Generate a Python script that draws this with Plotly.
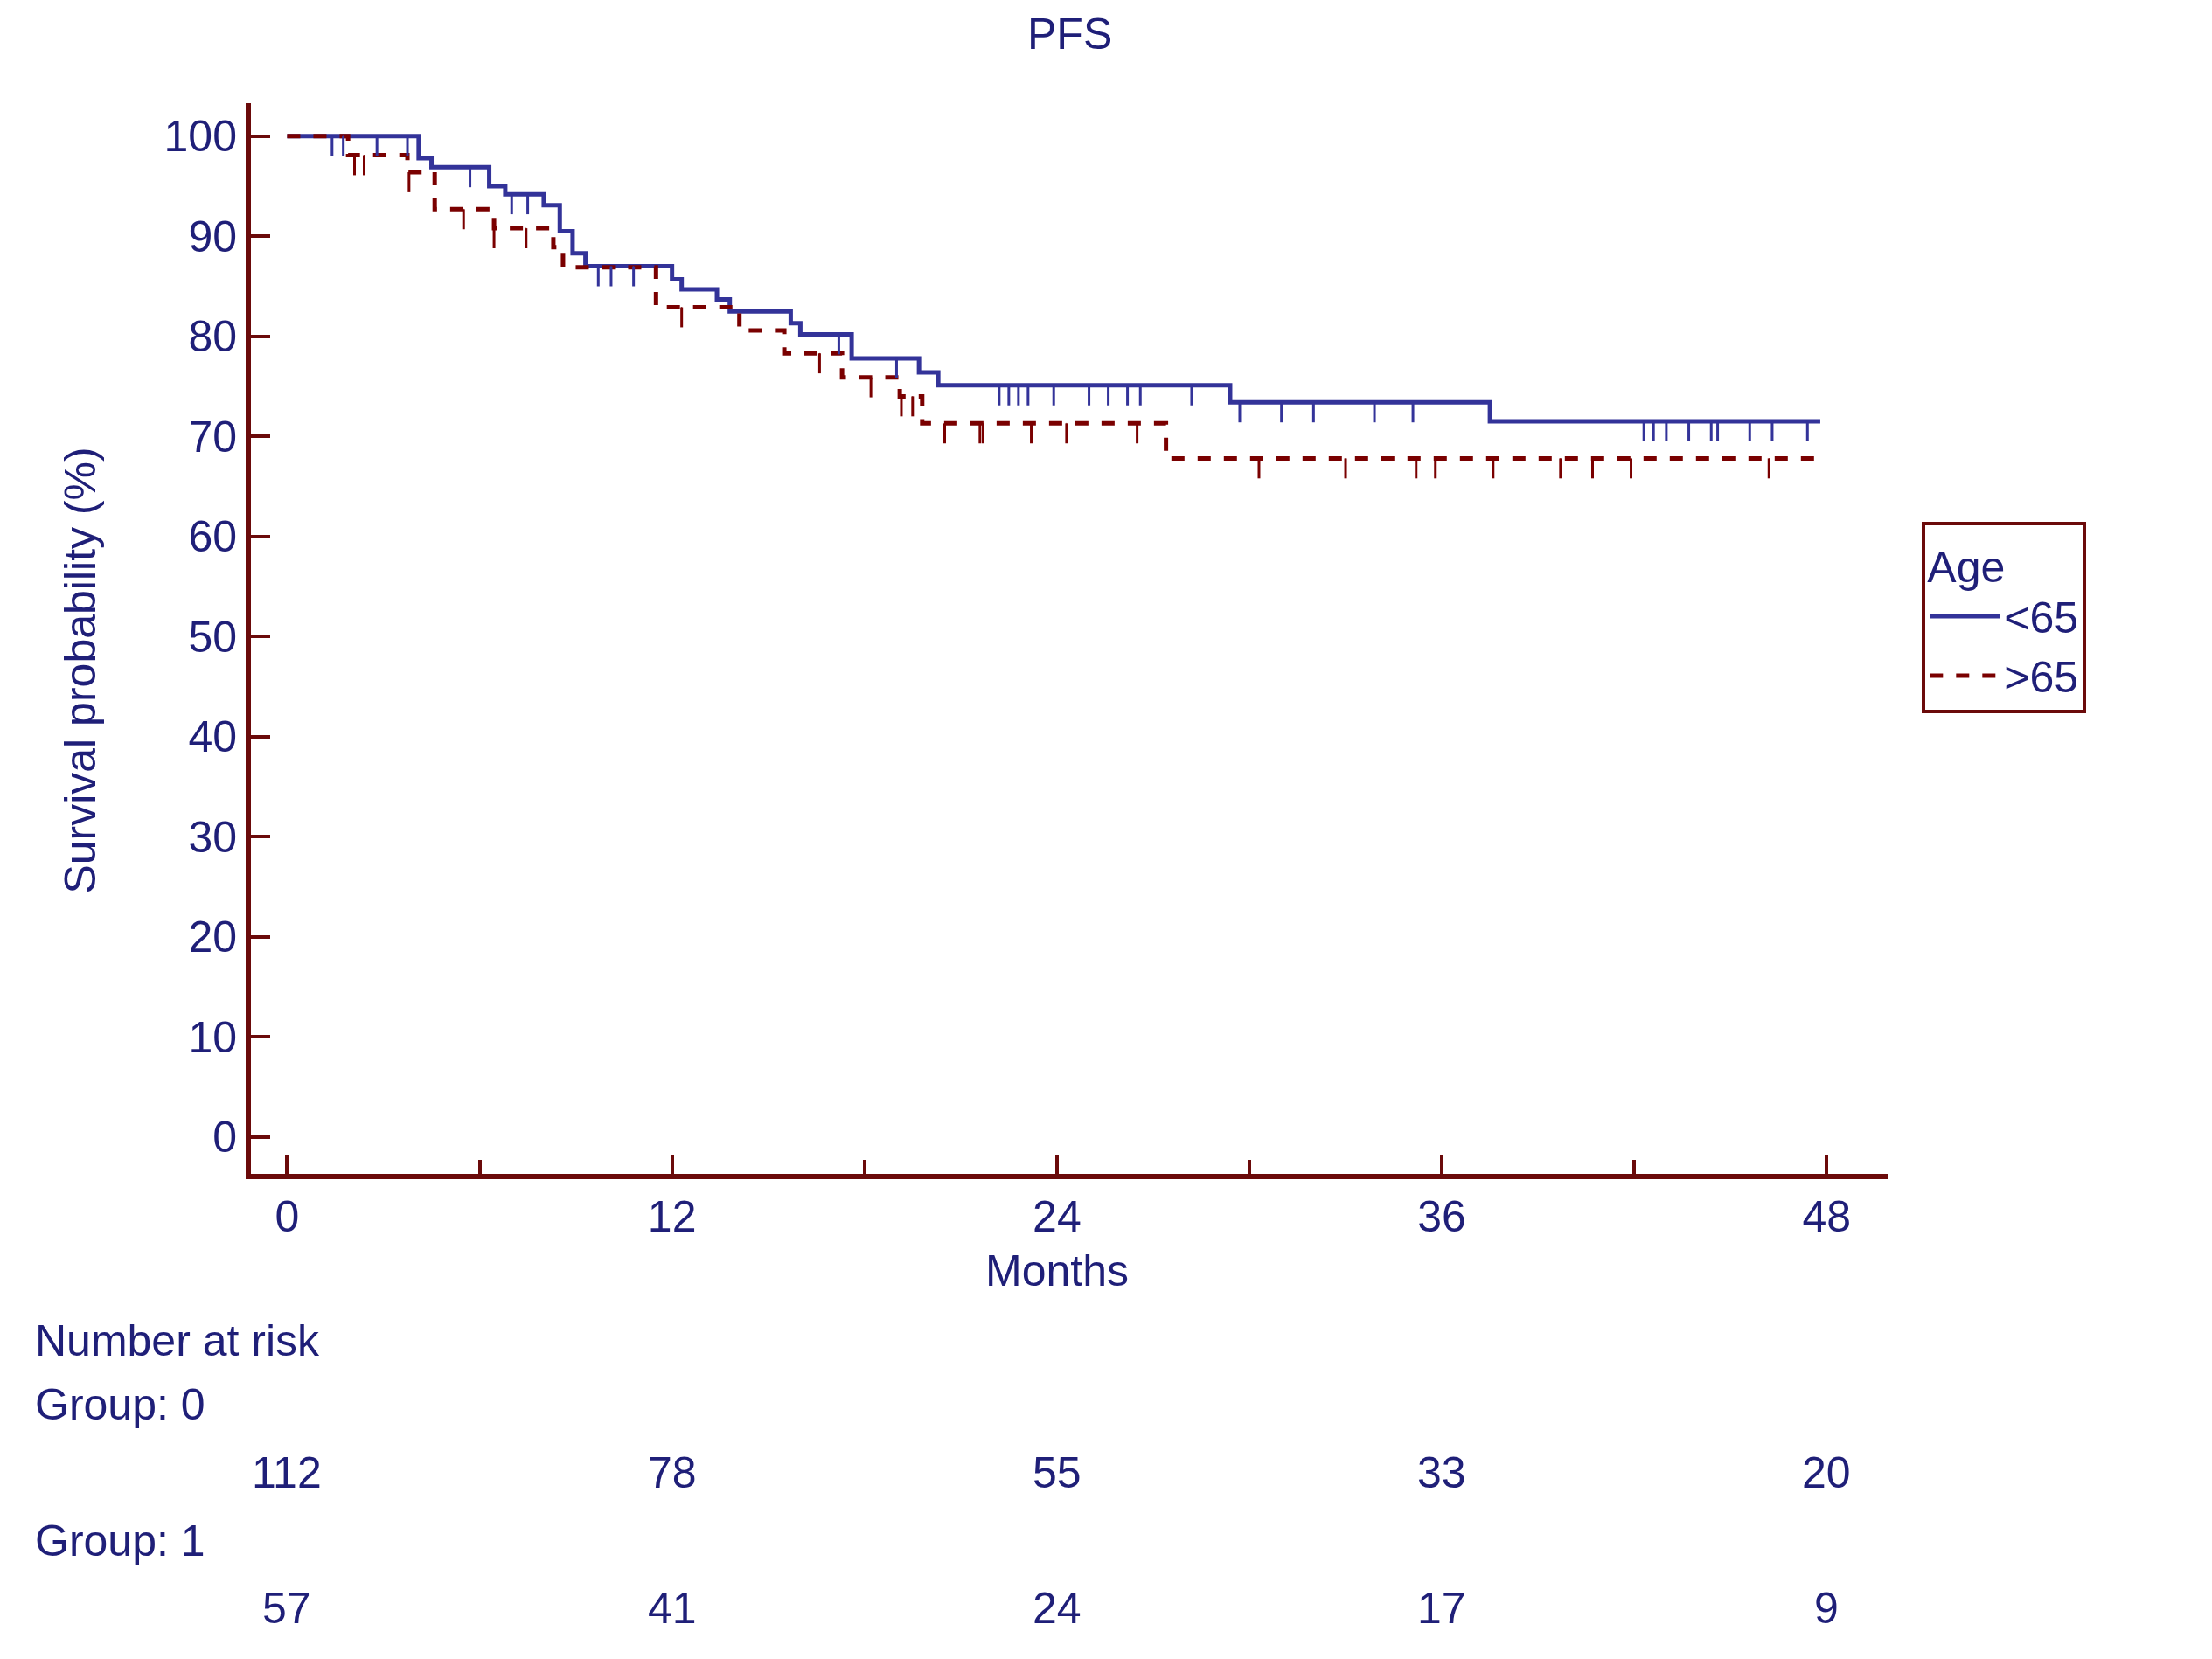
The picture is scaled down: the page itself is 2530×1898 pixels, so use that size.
import plotly.graph_objects as go

BLUE = '#333399'
RED = '#7a0000'
AXIS = '#6b0a0a'
TXT = '#1f1f78'
FONT = 'Liberation Sans'

# step curves: (time of step, survival after step)
young_t = [0, 4.1, 4.5, 6.3, 6.8, 8.0, 8.5, 8.9, 9.3, 12.0, 12.3, 13.4, 13.8, 15.7, 16.0, 17.6, 19.7, 20.3, 29.4, 37.5, 47.8]
young_s = [100, 97.8, 96.9, 95.0, 94.2, 93.1, 90.5, 88.3, 87.0, 85.7, 84.7, 83.7, 82.5, 81.3, 80.2, 77.8, 76.4, 75.1, 73.4, 71.5, 71.5]
old_t = [0, 1.9, 3.75, 4.6, 6.45, 8.3, 8.6, 11.5, 14.1, 15.5, 17.3, 19.1, 19.8, 27.4, 47.8]
old_s = [100, 98.1, 96.4, 92.7, 90.8, 88.9, 86.9, 82.9, 80.6, 78.3, 75.9, 74.0, 71.3, 67.8, 67.8]

# censored times
young_cens = [1.4, 1.75, 2.8, 3.75, 5.7, 7.0, 7.5, 9.7, 10.1, 10.8, 17.2, 19.0, 22.2, 22.5,
              22.8, 23.1, 23.9, 25.0, 25.6, 26.2, 26.6, 28.2, 29.7, 31.0, 32.0, 33.9, 35.1,
              42.3, 42.6, 43.0, 43.7, 44.4, 44.6, 45.6, 46.3, 47.4]
old_cens = [2.1, 2.4, 3.8, 5.5, 6.45, 7.45, 12.3, 16.6, 18.2, 19.15, 19.5, 20.5, 21.7,
            21.6, 23.2, 24.3, 26.5, 30.3, 33.0, 35.2, 35.8, 37.6, 39.7, 40.7, 41.9, 46.2]

risk_months = [0, 12, 24, 36, 48]
risk_g0 = [112, 78, 55, 33, 20]
risk_g1 = [57, 41, 24, 17, 9]


def surv_at(ts, ss, t):
    v = ss[0]
    for a, b in zip(ts, ss):
        if a <= t:
            v = b
    return v


fig = go.Figure()
fig.add_trace(go.Scatter(x=young_t, y=young_s, mode='lines', line_shape='hv',
                         line=dict(color=BLUE, width=5), name='<65'))
fig.add_trace(go.Scatter(x=old_t, y=old_s, mode='lines', line_shape='hv',
                         line=dict(color=RED, width=5, dash='dash'), name='>65'))
for cens, ts, ss, col in [(young_cens, young_t, young_s, BLUE), (old_cens, old_t, old_s, RED)]:
    fig.add_trace(go.Scatter(
        x=cens, y=[surv_at(ts, ss, c) for c in cens], mode='markers',
        marker=dict(size=1, color=col), showlegend=False,
        error_y=dict(type='data', symmetric=False, array=[0] * len(cens),
                     arrayminus=[2.0] * len(cens), color=col, thickness=3, width=0)))

ann = [
    dict(text='PFS', x=0.5, y=1.04, xref='paper', yref='paper', yanchor='bottom'),
    dict(text='Months', x=24, y=-0.115, xref='x', yref='paper'),
    dict(text='Survival probability (%)', x=-0.12, y=0.47, xref='paper', yref='paper', textangle=-90),
    dict(text='Number at risk', x=-0.133, y=-0.18, xref='paper', yref='paper', xanchor='left'),
    dict(text='Group: 0', x=-0.133, y=-0.24, xref='paper', yref='paper', xanchor='left'),
    dict(text='Group: 1', x=-0.133, y=-0.367, xref='paper', yref='paper', xanchor='left'),
]
for m, a, b in zip(risk_months, risk_g0, risk_g1):
    ann.append(dict(text=str(a), x=m, y=-0.304, xref='x', yref='paper'))
    ann.append(dict(text=str(b), x=m, y=-0.43, xref='x', yref='paper'))
for a in ann:
    a.update(showarrow=False, font=dict(family=FONT, size=50, color=TXT))

fig.update_layout(
    width=2530, height=1898,
    margin=dict(l=279, r=379, t=110, b=563),
    plot_bgcolor='white', paper_bgcolor='white',
    font=dict(family=FONT, size=50, color=TXT),
    annotations=ann,
    xaxis=dict(range=[-1.13, 49.9], tickvals=[0, 12, 24, 36, 48], ticks='inside',
               ticklen=22, tickwidth=4, tickcolor=AXIS, showgrid=False, zeroline=False,
               showline=True, linecolor=AXIS, linewidth=6,
               minor=dict(tickvals=[6, 18, 30, 42], ticks='inside', ticklen=16,
                          tickwidth=4, tickcolor=AXIS)),
    yaxis=dict(range=[-3.7, 103.3], tickvals=list(range(0, 101, 10)), ticks='inside',
               ticklen=22, tickwidth=4, tickcolor=AXIS, showgrid=False, zeroline=False,
               showline=True, linecolor=AXIS, linewidth=6),
    legend=dict(x=1.021, y=0.609, xanchor='left', yanchor='top',
                title=dict(text='Age', font=dict(size=50, color=TXT)),
                bordercolor=AXIS, borderwidth=4, bgcolor='white',
                font=dict(size=50, color=TXT), itemwidth=80),
)
fig.write_html("out.html")
